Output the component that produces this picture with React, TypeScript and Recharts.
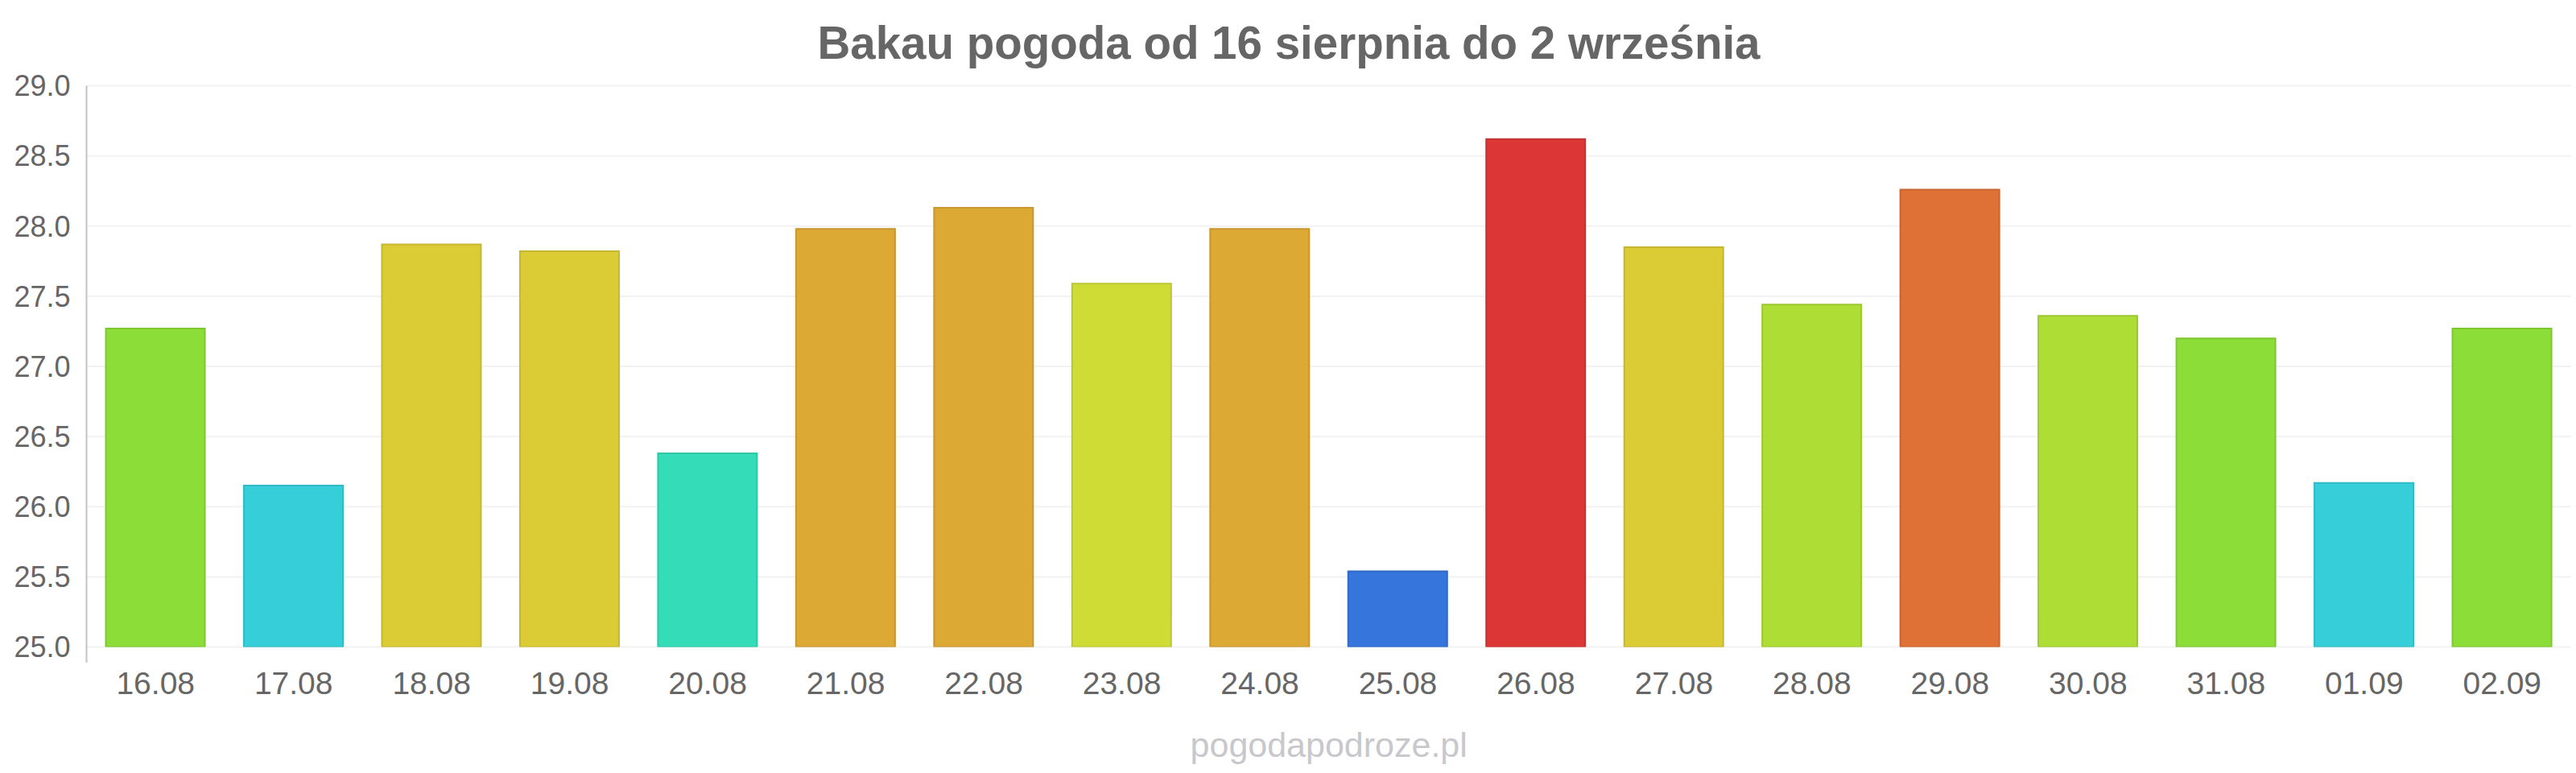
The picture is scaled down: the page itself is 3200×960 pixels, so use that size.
import React from 'react';
import * as R from 'recharts';
import { BarChart, Bar, XAxis, YAxis, CartesianGrid, Cell, Customized } from 'recharts';

const TITLE = 'Bakau pogoda od 16 sierpnia do 2 września';
const WATERMARK = 'pogodapodroze.pl';

const categories = ['16.08', '17.08', '18.08', '19.08', '20.08', '21.08', '22.08', '23.08', '24.08', '25.08', '26.08', '27.08', '28.08', '29.08', '30.08', '31.08', '01.09', '02.09'];
const temperatures = [27.27, 26.15, 27.87, 27.82, 26.38, 27.98, 28.13, 27.59, 27.98, 25.54, 28.62, 27.85, 27.44, 28.26, 27.36, 27.2, 26.17, 27.27];
const barColors = ['#8cdd37', '#36cfd9', '#dbcc35', '#dbcc35', '#34ddb8', '#dda935', '#dda935', '#d0dc36', '#dda935', '#3575dc', '#dc3636', '#dbcc35', '#aedd35', '#df7036', '#aedd35', '#8cdd37', '#36cfd9', '#8cdd37'];
const yTicks = [25, 25.5, 26, 26.5, 27, 27.5, 28, 28.5, 29];

const data = categories.map((c, i) => ({ day: c, temp: temperatures[i] }));

const darken = (hex: string, f = 0.9) => {
  const n = parseInt(hex.slice(1), 16);
  const r = Math.round(((n >> 16) & 255) * f);
  const g = Math.round(((n >> 8) & 255) * f);
  const b = Math.round((n & 255) * f);
  return `rgb(${r},${g},${b})`;
};

const FONT = '"Liberation Sans", Arial, Helvetica, sans-serif';
const hasPlotHook = typeof (R as any).usePlotArea === 'function';

const AxisExt = () => {
  const area = hasPlotHook ? (R as any).usePlotArea() : null;
  if (!area) return null;
  return (
    <line
      x1={area.x}
      x2={area.x}
      y1={area.y}
      y2={area.y + area.height + 19.5}
      stroke="#c4c4c4"
      strokeWidth={2}
    />
  );
};

export default function App() {
  return (
    <div style={{ position: 'absolute', left: 0, top: 0, width: 3200, height: 960, background: '#fff' }}>
      <BarChart
        width={3200}
        height={960}
        data={data}
        margin={{ top: 106.5, right: 6, bottom: 0, left: 0 }}
        barCategoryGap="14%"
      >
        <CartesianGrid vertical={false} stroke="#f2f2f2" strokeWidth={2} />
        <XAxis
          dataKey="day"
          height={156.5}
          axisLine={false}
          tickLine={false}
          tickSize={0}
          tickMargin={31}
          interval={0}
          tick={{ fill: '#666666', fontSize: 39, fontFamily: FONT }}
        />
        <YAxis
          width={107.5}
          domain={[25, 29]}
          ticks={yTicks}
          allowDataOverflow
          tickFormatter={(v: number) => v.toFixed(1)}
          axisLine={hasPlotHook ? false : { stroke: '#c4c4c4', strokeWidth: 2 }}
          tickLine={false}
          tickSize={0}
          tickMargin={20}
          tick={{ fill: '#666666', fontSize: 36, fontFamily: FONT }}
        />
        <Bar dataKey="temp" isAnimationActive={false} strokeWidth={2}>
          {data.map((d, i) => (
            <Cell key={d.day} fill={barColors[i]} stroke={darken(barColors[i])} />
          ))}
        </Bar>
        <Customized component={<AxisExt />} />
      </BarChart>
      <svg
        width={3200}
        height={960}
        style={{ position: 'absolute', left: 0, top: 0, pointerEvents: 'none' }}
      >
        <text x={1601} y={73.3} textAnchor="middle" fontFamily={FONT} fontSize={56.5} fontWeight="bold" fill="#666666">
          {TITLE}
        </text>
        <text x={1650.7} y={940} textAnchor="middle" fontFamily={FONT} fontSize={43} fill="#c8c8cc">
          {WATERMARK}
        </text>
      </svg>
    </div>
  );
}
